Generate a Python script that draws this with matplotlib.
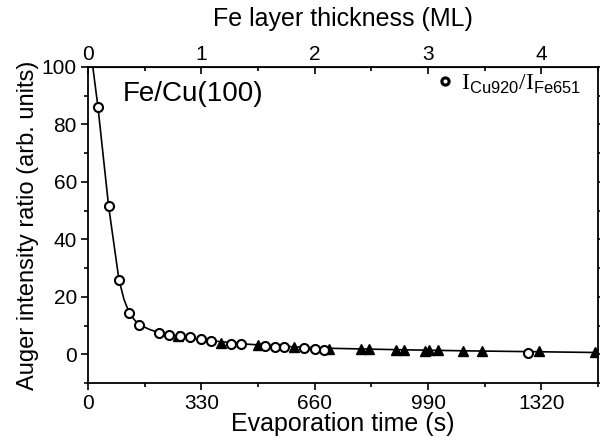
import matplotlib
matplotlib.use("Agg")
import matplotlib.pyplot as plt
from matplotlib.ticker import MultipleLocator, FixedLocator

plt.rcParams.update({
    "font.family": "Liberation Sans",
    "font.size": 15,
    "mathtext.fontset": "custom",
    "mathtext.rm": "Liberation Serif",
    "mathtext.sf": "Liberation Sans",
})

# open circles: I_Cu920 / I_Fe651
circ_t = [29, 60, 90, 120, 149, 207, 236, 267, 298, 330, 359, 417, 446,
          514, 543, 572, 630, 660, 688, 1281]
circ_y = [86, 51.5, 26, 14.5, 10.3, 7.5, 6.8, 6.5, 6.0, 5.2, 4.7, 3.7, 3.5,
          2.9, 2.6, 2.4, 2.3, 1.9, 1.6, 0.5]

# filled triangles
tri_t = [262, 388, 495, 600, 703, 795, 819, 897, 921, 982, 992, 1018,
         1092, 1146, 1313, 1475]
tri_y = [6.2, 4.0, 3.1, 2.6, 2.0, 1.8, 1.8, 1.6, 1.6, 1.2, 1.4, 1.4,
         1.2, 1.2, 1.0, 0.8]

# fitted curve
curve_t = [14, 29, 60, 90, 105, 120, 135, 149, 180, 207, 260, 330, 450,
           600, 700, 900, 1100, 1300, 1490]
curve_y = [100, 86, 51.5, 26, 19, 14.5, 12, 10.3, 8.6, 7.5, 6.2, 5.1, 3.6,
           2.6, 2.1, 1.6, 1.2, 0.9, 0.6]

ML_TIME = 330.0
ml_ticks = [0, 1, 2, 3, 4]
ml_minor = [0.5, 1.5, 2.5, 3.5, 4.5]

fig = plt.figure(figsize=(6.0, 4.43), dpi=100)
ax = fig.add_axes([0.1467, 0.1354, 0.85, 0.7134])

ax.plot(curve_t, curve_y, color="black", lw=1.2, zorder=1)
ax.plot(tri_t, tri_y, ls="none", marker="^", ms=7.5, color="black", zorder=2)
ax.plot(circ_t, circ_y, ls="none", marker="o", ms=6.5, mfc="white",
        mec="black", mew=1.5, zorder=3,
        label=r"$\mathrm{I}_{\mathsf{Cu920}}/\mathrm{I}_{\mathsf{Fe651}}$")

ax.set_xlim(0, 1485)
ax.set_ylim(-10, 100)
ax.xaxis.set_major_locator(MultipleLocator(330))
ax.xaxis.set_minor_locator(MultipleLocator(165))
ax.yaxis.set_major_locator(MultipleLocator(20))
ax.yaxis.set_minor_locator(MultipleLocator(10))

ax.tick_params(which="both", direction="out", width=1.2, labelsize=15, pad=3)
ax.tick_params(which="major", length=5)
ax.tick_params(which="minor", length=3)
ax.tick_params(axis="y", which="both", right=True, labelright=False)
for spine in ax.spines.values():
    spine.set_linewidth(1.3)

ax.set_xlabel("Evaporation time (s)", fontsize=18, labelpad=-1)
ax.set_ylabel("Auger intensity ratio (arb. units)", fontsize=17, labelpad=2)

sec = ax.secondary_xaxis("top", functions=(lambda t: t / ML_TIME,
                                           lambda m: m * ML_TIME))
sec.xaxis.set_major_locator(FixedLocator(ml_ticks))
sec.xaxis.set_minor_locator(FixedLocator(ml_minor))
sec.tick_params(which="both", direction="in", width=1.2, labelsize=15, pad=2)
sec.tick_params(which="major", length=5)
sec.tick_params(which="minor", length=3)
sec.set_xlabel("Fe layer thickness (ML)", fontsize=18, labelpad=14)

ax.text(0.068, 0.955, "Fe/Cu(100)", transform=ax.transAxes, fontsize=20,
        va="top", ha="left")

leg = ax.legend(loc="upper right", bbox_to_anchor=(1.0, 1.035), frameon=False,
                fontsize=17, handlelength=0.6, handletextpad=0.4,
                markerscale=0.8, borderaxespad=0.3)
for h in leg.legend_handles:
    h.set_markeredgewidth(2.2)

fig.savefig("out.png", dpi=100)
